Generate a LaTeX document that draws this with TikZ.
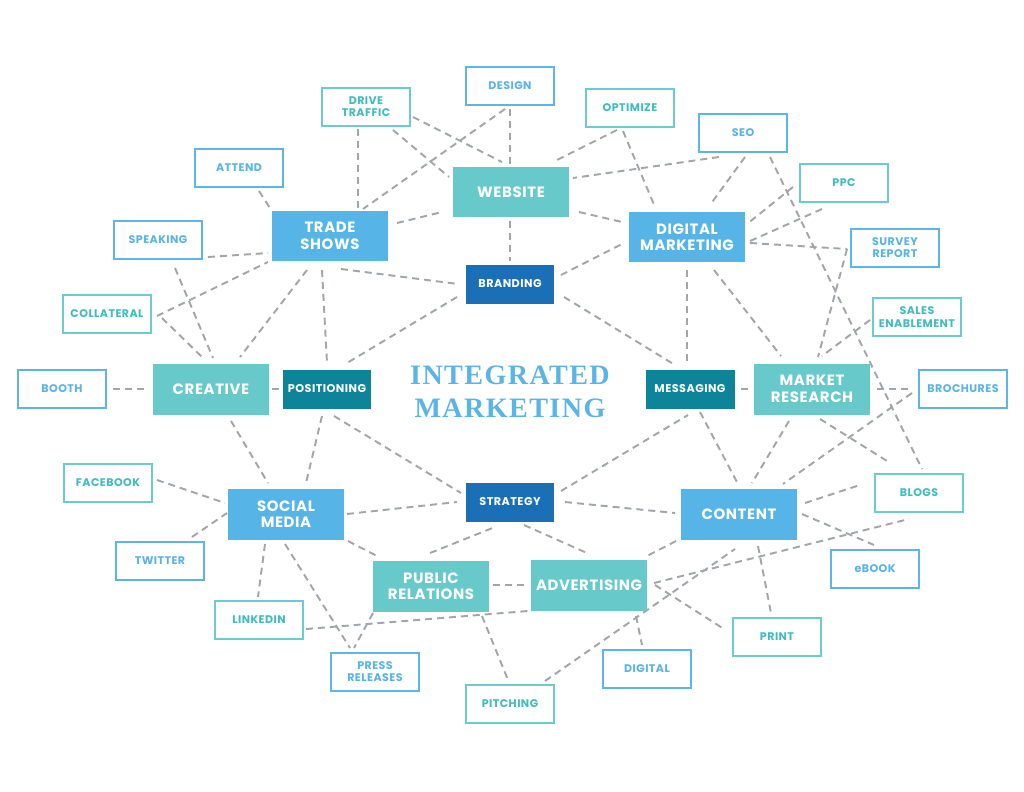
\documentclass[tikz,border=0pt]{standalone}
\usepackage{fontspec}
\setmainfont{Liberation Serif}
\newfontfamily\boxfont{Poppins}[LetterSpace=4]
\newfontfamily\titlefont{Liberation Serif}[LetterSpace=5]
\usetikzlibrary{calc,backgrounds}
\definecolor{mblue}{HTML}{56B5E6}
\definecolor{mteal}{HTML}{68C9CA}
\definecolor{dkblue}{HTML}{1B6FB7}
\definecolor{dkteal}{HTML}{0D8499}
\definecolor{olblue}{HTML}{5CB5E6}
\definecolor{olteal}{HTML}{6CCBCC}
\definecolor{txblue}{HTML}{57B4E4}
\definecolor{txteal}{HTML}{3FBCBD}
\definecolor{lgray}{HTML}{A2A6AA}
\definecolor{titleblue}{HTML}{5AB4E5}
\tikzset{
 conn/.style={draw=lgray, line width=1.1pt, dash pattern=on 4pt off 2.8pt},
 mainbox/.style={minimum width=2.32cm, minimum height=1.02cm, inner sep=0pt, text=white, align=center,
   font=\boxfont\bfseries\fontsize{8.5}{9.4}\selectfont},
 bluebox/.style={mainbox, fill=mblue},
 tealbox/.style={mainbox, fill=mteal},
 darkbox/.style={minimum width=1.78cm, minimum height=0.78cm, inner sep=0pt, text=white,
   font=\boxfont\bfseries\fontsize{6.4}{8}\selectfont},
 dbluebox/.style={darkbox, fill=dkblue},
 dtealbox/.style={darkbox, fill=dkteal},
 obox/.style={minimum width=1.76cm, minimum height=0.76cm, inner sep=0pt, fill=white, line width=1.1pt,
   align=center, font=\boxfont\bfseries\fontsize{6.3}{6.9}\selectfont},
 outblue/.style={obox, draw=olblue, text=txblue},
 outteal/.style={obox, draw=olteal, text=txteal},
}
\begin{document}
\begin{tikzpicture}[x=0.02cm,y=-0.02cm]
\useasboundingbox (0,0) rectangle (1024,791);
% main boxes
\node[tealbox] (website) at (511,192) {WEBSITE};
\node[bluebox] (trade) at (330,236) {TRADE\\SHOWS};
\node[bluebox] (dm) at (687,237) {DIGITAL\\MARKETING};
\node[tealbox] (creative) at (211,389) {CREATIVE};
\node[bluebox] (social) at (286,514) {SOCIAL\\MEDIA};
\node[tealbox] (pr) at (431,586) {PUBLIC\\RELATIONS};
\node[tealbox] (adv) at (589,585) {ADVERTISING};
\node[bluebox] (content) at (739,514) {CONTENT};
\node[tealbox] (mr) at (812,389) {MARKET\\RESEARCH};
% dark boxes
\node[dbluebox] (branding) at (510,284) {BRANDING};
\node[dtealbox] (positioning) at (327,389) {POSITIONING};
\node[dtealbox] (messaging) at (690,389) {MESSAGING};
\node[dbluebox] (strategy) at (510,502) {STRATEGY};
% outline boxes
\node[outblue] (design) at (510,86) {DESIGN};
\node[outteal] (drive) at (366,107) {DRIVE\\TRAFFIC};
\node[outblue] (attend) at (239,168) {ATTEND};
\node[outblue] (speaking) at (158,240) {SPEAKING};
\node[outteal] (collateral) at (107,314) {COLLATERAL};
\node[outteal] (optimize) at (630,108) {OPTIMIZE};
\node[outblue] (seo) at (743,133) {SEO};
\node[outteal] (ppc) at (844,183) {PPC};
\node[outblue] (survey) at (895,248) {SURVEY\\REPORT};
\node[outteal] (sales) at (917,317) {SALES\\ENABLEMENT};
\node[outblue] (booth) at (62,389) {BOOTH};
\node[outteal] (facebook) at (108,483) {FACEBOOK};
\node[outblue] (twitter) at (160,561) {TWITTER};
\node[outteal] (linkedin) at (259,620) {LINKEDIN};
\node[outblue] (press) at (375,672) {PRESS\\RELEASES};
\node[outteal] (pitching) at (510,704) {PITCHING};
\node[outblue] (brochures) at (963,389) {BROCHURES};
\node[outteal] (blogs) at (919,493) {BLOGS};
\node[outblue] (ebook) at (875,569) {eBOOK};
\node[outteal] (print) at (777,637) {PRINT};
\node[outblue] (digital) at (647,669) {DIGITAL};
% title
\node[font=\titlefont\bfseries\fontsize{16}{18.7}\selectfont, text=titleblue, align=center] (title) at (510,392) {INTEGRATED\\MARKETING};
% connectors
\begin{scope}[on background layer]
\draw[conn] ($(drive)+(-8,22)$) -- ($(trade)+(28,-27)$);
\draw[conn] ($(drive)+(27,23)$) -- ($(website)+(-62,-15)$);
\draw[conn] ($(drive)+(47,10)$) -- ($(website)+(-9,-30)$);
\draw[conn] ($(design)+(-5,23)$) -- ($(trade)+(33,-27)$);
\draw[conn] ($(design)+(0,23)$) -- ($(website)+(-1,-27)$);
\draw[conn] ($(attend)+(20,23)$) -- ($(trade)+(-60,-28)$);
\draw[conn] ($(speaking)+(50,17)$) -- ($(trade)+(-62,17)$);
\draw[conn] ($(collateral)+(50,2)$) -- ($(trade)+(-62,26)$);
\draw[conn] ($(speaking)+(17,28)$) -- ($(creative)+(2,-31)$);
\draw[conn] ($(collateral)+(55,4)$) -- ($(creative)+(-8,-31)$);
\draw[conn] ($(trade)+(-23,34)$) -- ($(creative)+(29,-32)$);
\draw[conn] ($(trade)+(-8,34)$) -- ($(positioning)+(0,-26)$);
\draw[conn] ($(trade)+(11,33)$) -- ($(branding)+(-52,0)$);
\draw[conn] ($(trade)+(67,-13)$) -- ($(website)+(-69,20)$);
\draw[conn] ($(branding)+(-53,13)$) -- ($(positioning)+(20,-26)$);
\draw[conn] ($(website)+(-1,29)$) -- ($(branding)+(0,-23)$);
\draw[conn] ($(website)+(68,20)$) -- ($(dm)+(-65,-15)$);
\draw[conn] ($(optimize)+(-13,22)$) -- ($(website)+(42,-30)$);
\draw[conn] ($(optimize)+(-7,23)$) -- ($(dm)+(-32,-30)$);
\draw[conn] ($(seo)+(-24,24)$) -- ($(website)+(62,-14)$);
\draw[conn] ($(seo)+(2,24)$) -- ($(dm)+(23,-32)$);
\draw[conn] ($(seo)+(27,24)$) -- ($(blogs)+(3,-24)$);
\draw[conn] ($(ppc)+(-51,4)$) -- ($(dm)+(60,-13)$);
\draw[conn] ($(ppc)+(-22,26)$) -- ($(dm)+(63,4)$);
\draw[conn] ($(dm)+(63,6)$) -- ($(survey)+(-48,1)$);
\draw[conn] ($(survey)+(-48,1)$) -- ($(mr)+(6,-32)$);
\draw[conn] ($(sales)+(-47,3)$) -- ($(mr)+(10,-33)$);
\draw[conn] ($(dm)+(0,33)$) -- ($(messaging)+(-3,-27)$);
\draw[conn] ($(dm)+(27,33)$) -- ($(mr)+(-31,-33)$);
\draw[conn] ($(branding)+(51,-9)$) -- ($(dm)+(-63,6)$);
\draw[conn] ($(branding)+(54,13)$) -- ($(messaging)+(-15,-24)$);
\draw[conn] ($(booth)+(51,0)$) -- ($(creative)+(-64,0)$);
\draw[conn] ($(creative)+(61,0)$) -- ($(positioning)+(-47,0)$);
\draw[conn] ($(creative)+(20,32)$) -- ($(social)+(-18,-31)$);
\draw[conn] ($(positioning)+(-5,27)$) -- ($(social)+(20,-31)$);
\draw[conn] ($(positioning)+(7,27)$) -- ($(strategy)+(-49,-9)$);
\draw[conn] ($(facebook)+(49,-3)$) -- ($(social)+(-61,-11)$);
\draw[conn] ($(twitter)+(32,-24)$) -- ($(social)+(-59,-1)$);
\draw[conn] ($(social)+(61,0)$) -- ($(strategy)+(-53,0)$);
\draw[conn] ($(social)+(62,27)$) -- ($(pr)+(-54,-30)$);
\draw[conn] ($(social)+(-21,30)$) -- ($(linkedin)+(-1,-23)$);
\draw[conn] ($(social)+(-1,30)$) -- ($(press)+(-25,-24)$);
\draw[conn] ($(pr)+(-58,27)$) -- ($(press)+(-21,-24)$);
\draw[conn] ($(linkedin)+(47,9)$) -- ($(adv)+(-61,26)$);
\draw[conn] ($(pitching)+(35,-23)$) -- ($(content)+(-4,35)$);
\draw[conn] ($(pr)+(51,30)$) -- ($(pitching)+(-2,-24)$);
\draw[conn] ($(pr)+(62,-1)$) -- ($(adv)+(-63,0)$);
\draw[conn] ($(pr)+(-1,-33)$) -- ($(strategy)+(-15,25)$);
\draw[conn] ($(strategy)+(14,23)$) -- ($(adv)+(-2,-32)$);
\draw[conn] ($(strategy)+(55,0)$) -- ($(content)+(-64,-1)$);
\draw[conn] ($(strategy)+(51,-11)$) -- ($(messaging)+(-2,26)$);
\draw[conn] ($(messaging)+(10,23)$) -- ($(content)+(-1,-30)$);
\draw[conn] ($(messaging)+(51,0)$) -- ($(mr)+(-63,0)$);
\draw[conn] ($(mr)+(-23,32)$) -- ($(content)+(13,-31)$);
\draw[conn] ($(mr)+(65,0)$) -- ($(brochures)+(-51,0)$);
\draw[conn] ($(mr)+(8,30)$) -- ($(blogs)+(-32,-32)$);
\draw[conn] ($(brochures)+(-51,4)$) -- ($(content)+(44,-30)$);
\draw[conn] ($(content)+(66,-11)$) -- ($(blogs)+(-59,-8)$);
\draw[conn] ($(content)+(63,0)$) -- ($(ebook)+(-1,-24)$);
\draw[conn] ($(content)+(19,32)$) -- ($(print)+(-6,-24)$);
\draw[conn] ($(content)+(-63,27)$) -- ($(adv)+(58,-29)$);
\draw[conn] ($(adv)+(47,31)$) -- ($(digital)+(-5,-24)$);
\draw[conn] ($(adv)+(66,0)$) -- ($(print)+(-53,-8)$);
\draw[conn] ($(adv)+(65,-2)$) -- ($(blogs)+(-10,26)$);
\end{scope}
\end{tikzpicture}
\end{document}
